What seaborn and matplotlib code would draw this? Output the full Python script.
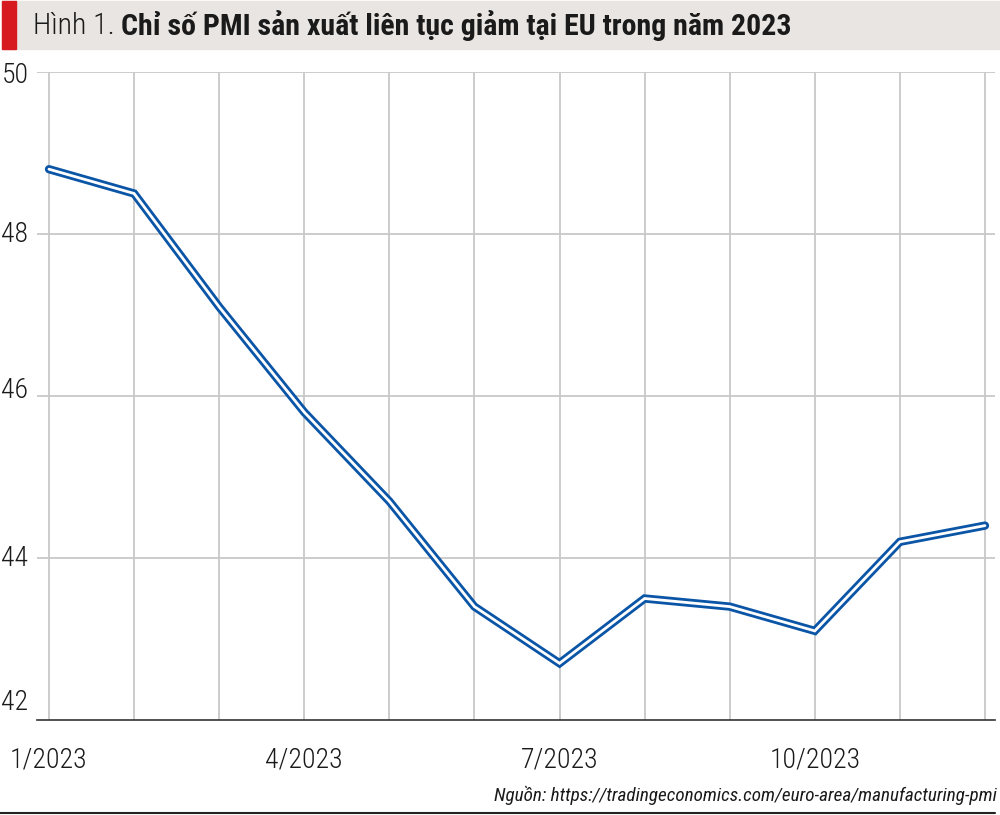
import pandas as pd
import matplotlib.pyplot as plt
import seaborn as sns
from matplotlib.patches import Rectangle
from matplotlib.lines import Line2D

# ==========================================
# DATA
# ==========================================

months = ["1/2023", "2/2023", "3/2023", "4/2023", "5/2023", "6/2023",
          "7/2023", "8/2023", "9/2023", "10/2023", "11/2023", "12/2023"]
pmi = [48.8, 48.5, 47.1, 45.8, 44.7, 43.4, 42.7, 43.5, 43.4, 43.1, 44.2, 44.4]
y_ticks = [42, 44, 46, 48, 50]
x_label_months = ["1/2023", "4/2023", "7/2023", "10/2023"]

df = pd.DataFrame({"month": months, "pmi": pmi})
df["idx"] = range(len(df))

# ==========================================
# STYLE
# ==========================================

sns.set_style("white")
FONT = ['Roboto Condensed', 'Roboto', 'DejaVu Sans']
plt.rcParams['font.family'] = FONT

BLUE = "#0b55a7"
GRID = "#c8c8c8"
INK = "#1a1a1a"

fig = plt.figure(figsize=(10, 8.15), dpi=100)
ax = fig.add_axes([0.037, 1 - 720 / 815, 0.958, (720 - 72) / 815])

# double line: thick blue, thin white on top
sns.lineplot(data=df, x="idx", y="pmi", ax=ax, color=BLUE, linewidth=6.0,
             solid_capstyle="round", solid_joinstyle="miter", zorder=3)
sns.lineplot(data=df, x="idx", y="pmi", ax=ax, color="white", linewidth=2.0,
             solid_capstyle="round", solid_joinstyle="miter", zorder=4)

ax.set_xlim(-0.141, 11.118)
ax.set_ylim(42, 50)
ax.set_xlabel("")
ax.set_ylabel("")

# grid
for y in y_ticks[1:]:
    ax.axhline(y, color=GRID, linewidth=1.3, zorder=1)
for i in df["idx"]:
    ax.axvline(i, color=GRID, linewidth=1.3, zorder=1)

for s in ["top", "right", "left"]:
    ax.spines[s].set_visible(False)
ax.spines["bottom"].set_color("#333333")
ax.spines["bottom"].set_linewidth(1.2)
ax.spines["bottom"].set_zorder(5)

ax.set_xticks(df["idx"])
ax.set_xticklabels([m if m in x_label_months else "" for m in months],
                   fontsize=20, color=INK, fontweight="light")
ax.tick_params(axis="x", length=6, width=1.3, color=GRID, pad=13)
ax.set_yticks([])
label_shift = {42: 0.21, 44: 0.0, 46: 0.07, 48: 0.0, 50: -0.04}
for y in y_ticks:
    ax.text(-0.56, y + label_shift[y], str(y), ha="left", va="center", fontsize=20,
            color=INK, fontweight="light", clip_on=False)

# ==========================================
# TITLE BAR
# ==========================================

fig.patches.append(Rectangle((0.002, 1 - 49 / 815), 0.998, 48 / 815,
                             transform=fig.transFigure, color="#e9e5e2", zorder=0))
fig.patches.append(Rectangle((0.002, 1 - 49 / 815), 0.014, 48 / 815,
                             transform=fig.transFigure, color="#d71920", zorder=1))

title_y = 1 - 26 / 815
t1 = fig.text(0.033, title_y, "Hình 1.", fontsize=21.5, fontweight="light",
              color=INK, va="center", ha="left")
fig.canvas.draw()
bb = t1.get_window_extent()
fig.text(bb.x1 / 1000 + 0.006, title_y,
         "Chỉ số PMI sản xuất liên tục giảm tại EU trong năm 2023",
         fontsize=21.5, fontweight="bold", color=INK, va="center", ha="left")

# ==========================================
# SOURCE + BOTTOM RULE
# ==========================================

fig.text(0.997, 1 - 795 / 815,
         "Nguồn: https://tradingeconomics.com/euro-area/manufacturing-pmi",
         fontsize=13.8, style="italic", color=INK, ha="right", va="center")
fig.lines.append(Line2D([0.0, 0.995], [1 - 813 / 815] * 2, transform=fig.transFigure,
                        color="#222222", linewidth=1.5))

fig.savefig("out.png", dpi=100)
